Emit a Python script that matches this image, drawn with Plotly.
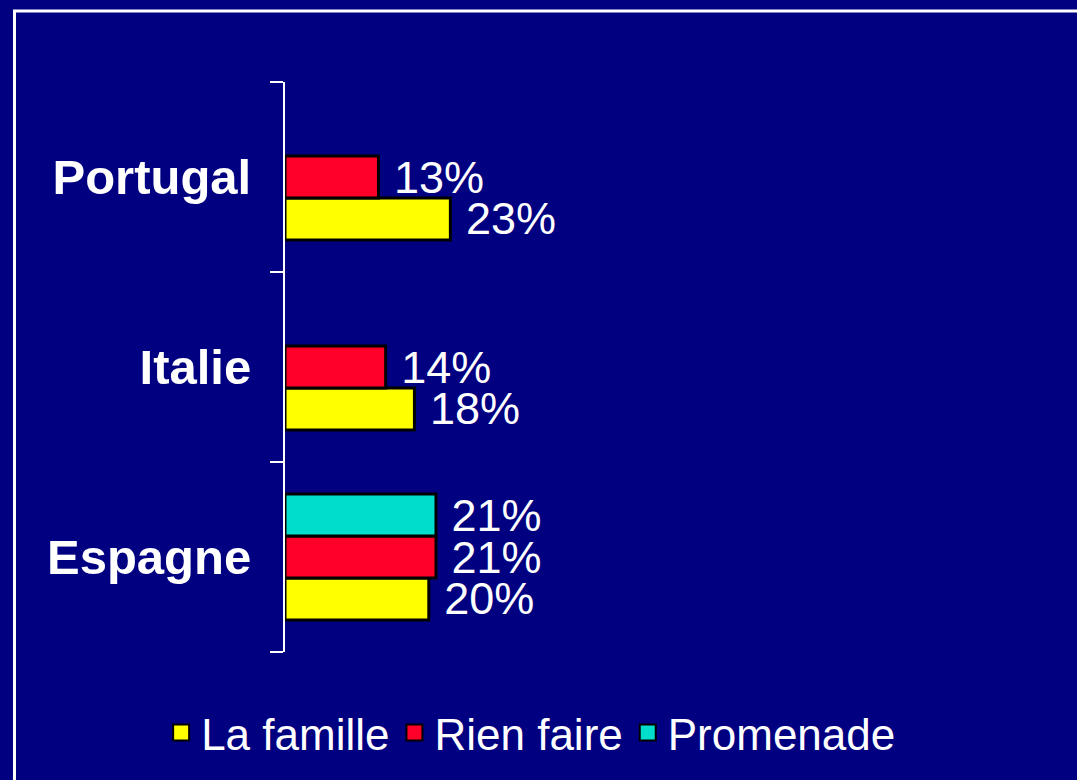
import plotly.graph_objects as go

countries = ["Espagne", "Italie", "Portugal"]
series_names = ["La famille", "Rien faire", "Promenade"]
la_famille = [20, 18, 23]
rien_faire = [21, 14, 13]
promenade = [21, None, None]

colors = ["#FFFF00", "#FF0028", "#00DDCC"]
font_family = "Arial, Liberation Sans, sans-serif"

fig = go.Figure()
for name, vals, col in zip(series_names, [la_famille, rien_faire, promenade], colors):
    fig.add_trace(go.Bar(
        y=countries, x=vals, orientation="h", name=name,
        marker=dict(color=col, line=dict(color="black", width=3)),
        text=["\u00a0" + str(v) + "%" if v is not None else "" for v in vals],
        textposition="outside", cliponaxis=False, constraintext="none",
        textfont=dict(family=font_family, size=45, color="white"),
        showlegend=False,
    ))
    # legend entry with a bigger square
    fig.add_trace(go.Scatter(
        x=[None], y=[None], mode="markers", name=name,
        marker=dict(symbol="square", size=16, color=col, line=dict(color="black", width=2)),
        showlegend=True,
    ))

# white frame around the chart
fig.add_shape(type="rect", xref="paper", yref="paper",
              x0=-0.3583, x1=2, y0=-1, y1=1.1245,
              line=dict(color="white", width=3), layer="below")

fig.update_layout(
    width=1077, height=780,
    margin=dict(l=285, r=37, t=82, b=128),
    paper_bgcolor="#000080", plot_bgcolor="#000080",
    barmode="group", bargap=0.337, bargroupgap=0,
    font=dict(family=font_family, color="white"),
    legend=dict(orientation="h", x=0.326, xanchor="center", y=-0.142, yanchor="middle",
                font=dict(size=44, color="white"), bgcolor="rgba(0,0,0,0)",
                itemsizing="trace"),
)
fig.update_xaxes(range=[0, 105], visible=False)
fig.update_yaxes(type="category", categoryorder="array", categoryarray=countries,
                 tickson="boundaries", ticks="outside", ticklen=13, tickwidth=2,
                 tickcolor="white", showline=True, linecolor="white", linewidth=2,
                 showgrid=False, zeroline=False, ticklabelstandoff=22,
                 tickfont=dict(family=font_family, size=49, color="white", weight="bold"))

fig.write_html("out.html", config={"displayModeBar": False},
               post_script="document.body.style.margin='0';document.body.style.background='#000080';")
